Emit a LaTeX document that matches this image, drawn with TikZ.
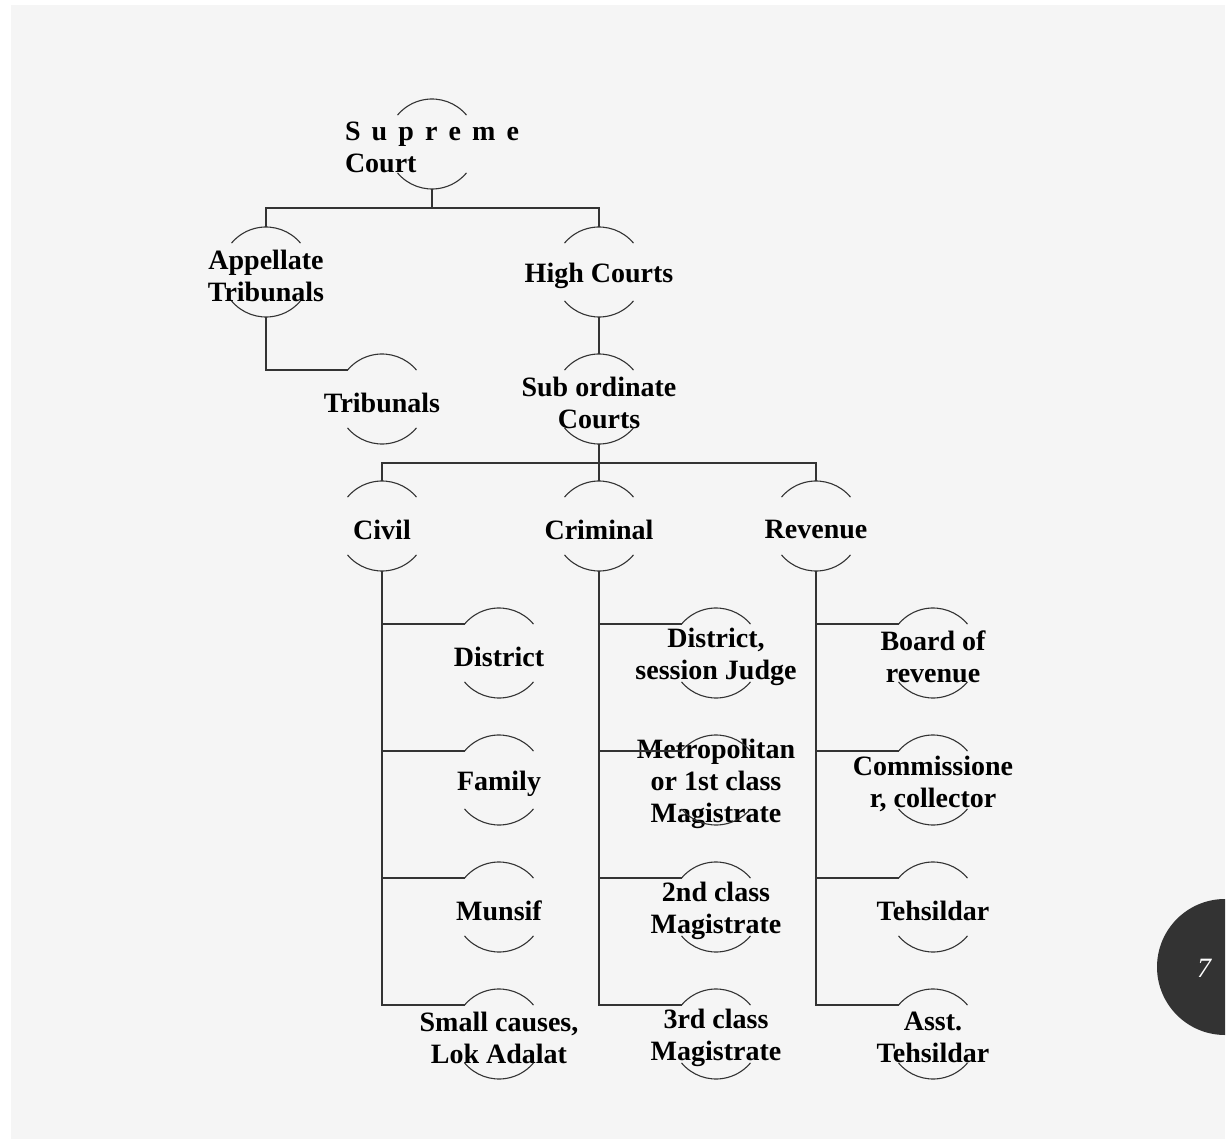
\documentclass[tikz,border=0pt]{standalone}
\usepackage{fontspec}
\setmainfont{Liberation Serif}
\usetikzlibrary{positioning}
\definecolor{pagegray}{HTML}{F5F5F5}
\definecolor{pagedark}{HTML}{333333}

\tikzset{
  courtring/.style={circle, minimum size=45pt, inner sep=0pt, outer sep=0pt},
  court/.style={courtring, label={[courttext]center:#1}},
  courtleft/.style={courtring, label={[courttext, align=left]center:#1}},
  courttext/.style={align=center, inner sep=0pt, text=black, yshift=-1.8pt,
    font=\bfseries\fontsize{14}{16}\selectfont},
  link/.style={draw=pagedark, line width=0.65pt},
  rim/.style={draw=pagedark, line width=0.55pt}
}

\begin{document}
\begin{tikzpicture}[x=0.5pt, y=-0.5pt]
\useasboundingbox (0,0) rectangle (1232,1139);
\fill[white] (0,0) rectangle (1232,1139);
\fill[pagegray] (11,5) rectangle (1225,1139);
\begin{scope}
\clip (11,5) rectangle (1225,1139);
\fill[pagedark] (1225,967) circle[radius=34pt];
\end{scope}
\node (pagenum) at (1204,968) {\textcolor{white}{\fontsize{14}{16}\selectfont\itshape 7}};

\node[courtleft={\makebox[87pt][s]{S u p r e m e}\\Court}] (sc) at (432,144) {};
\node[court={Appellate\\Tribunals}] (at) at (266,272) {};
\node[court={High Courts}] (hc) at (599,272) {};
\node[court={Tribunals}] (tb) at (382,399) {};
\node[court={Sub ordinate\\Courts}] (so) at (599,399) {};
\node[court={Civil}] (cv) at (382,526) {};
\node[court={Criminal}] (cr) at (599,526) {};
\node[court={Revenue}] (rv) at (816,526) {};
% civil courts
\node[court={District}] (cv1) at (499,653) {};
\node[court={Family}] (cv2) at (499,780) {};
\node[court={Munsif}] (cv3) at (499,907) {};
\node[court={Small causes,\\Lok Adalat}] (cv4) at (499,1034) {};
% criminal courts
\node[court={District,\\session Judge}] (cr1) at (716,653) {};
\node[court={Metropolitan\\or 1st class\\Magistrate}] (cr2) at (716,780) {};
\node[court={2nd class\\Magistrate}] (cr3) at (716,907) {};
\node[court={3rd class\\Magistrate}] (cr4) at (716,1034) {};
% revenue courts
\node[court={Board of\\revenue}] (rv1) at (933,653) {};
\node[court={Commissione\\r, collector}] (rv2) at (933,780) {};
\node[court={Tehsildar}] (rv3) at (933,907) {};
\node[court={Asst.\\Tehsildar}] (rv4) at (933,1034) {};

\foreach \n in {sc,at,hc,tb,so,cv,cr,rv,cv1,cv2,cv3,cv4,cr1,cr2,cr3,cr4,rv1,rv2,rv3,rv4} {
  \draw[rim] (\n.40) arc[start angle=40, end angle=140, radius=22.5pt];
  \draw[rim] (\n.220) arc[start angle=220, end angle=320, radius=22.5pt];
}

\draw[link] (sc.south) -- ++(0,19) -| (at.north);
\draw[link] (sc.south) -- ++(0,19) -| (hc.north);
\draw[link] (at.south) |- (tb.140);
\draw[link] (hc.south) -- (so.north);
\draw[link] (so.south) -- ++(0,19) -| (cv.north);
\draw[link] (so.south) -- (cr.north);
\draw[link] (so.south) -- ++(0,19) -| (rv.north);
\foreach \c in {cv,cr,rv} {
  \foreach \k in {1,2,3,4}
    \draw[link] (\c.south) |- (\c\k.140);
}
\end{tikzpicture}
\end{document}
